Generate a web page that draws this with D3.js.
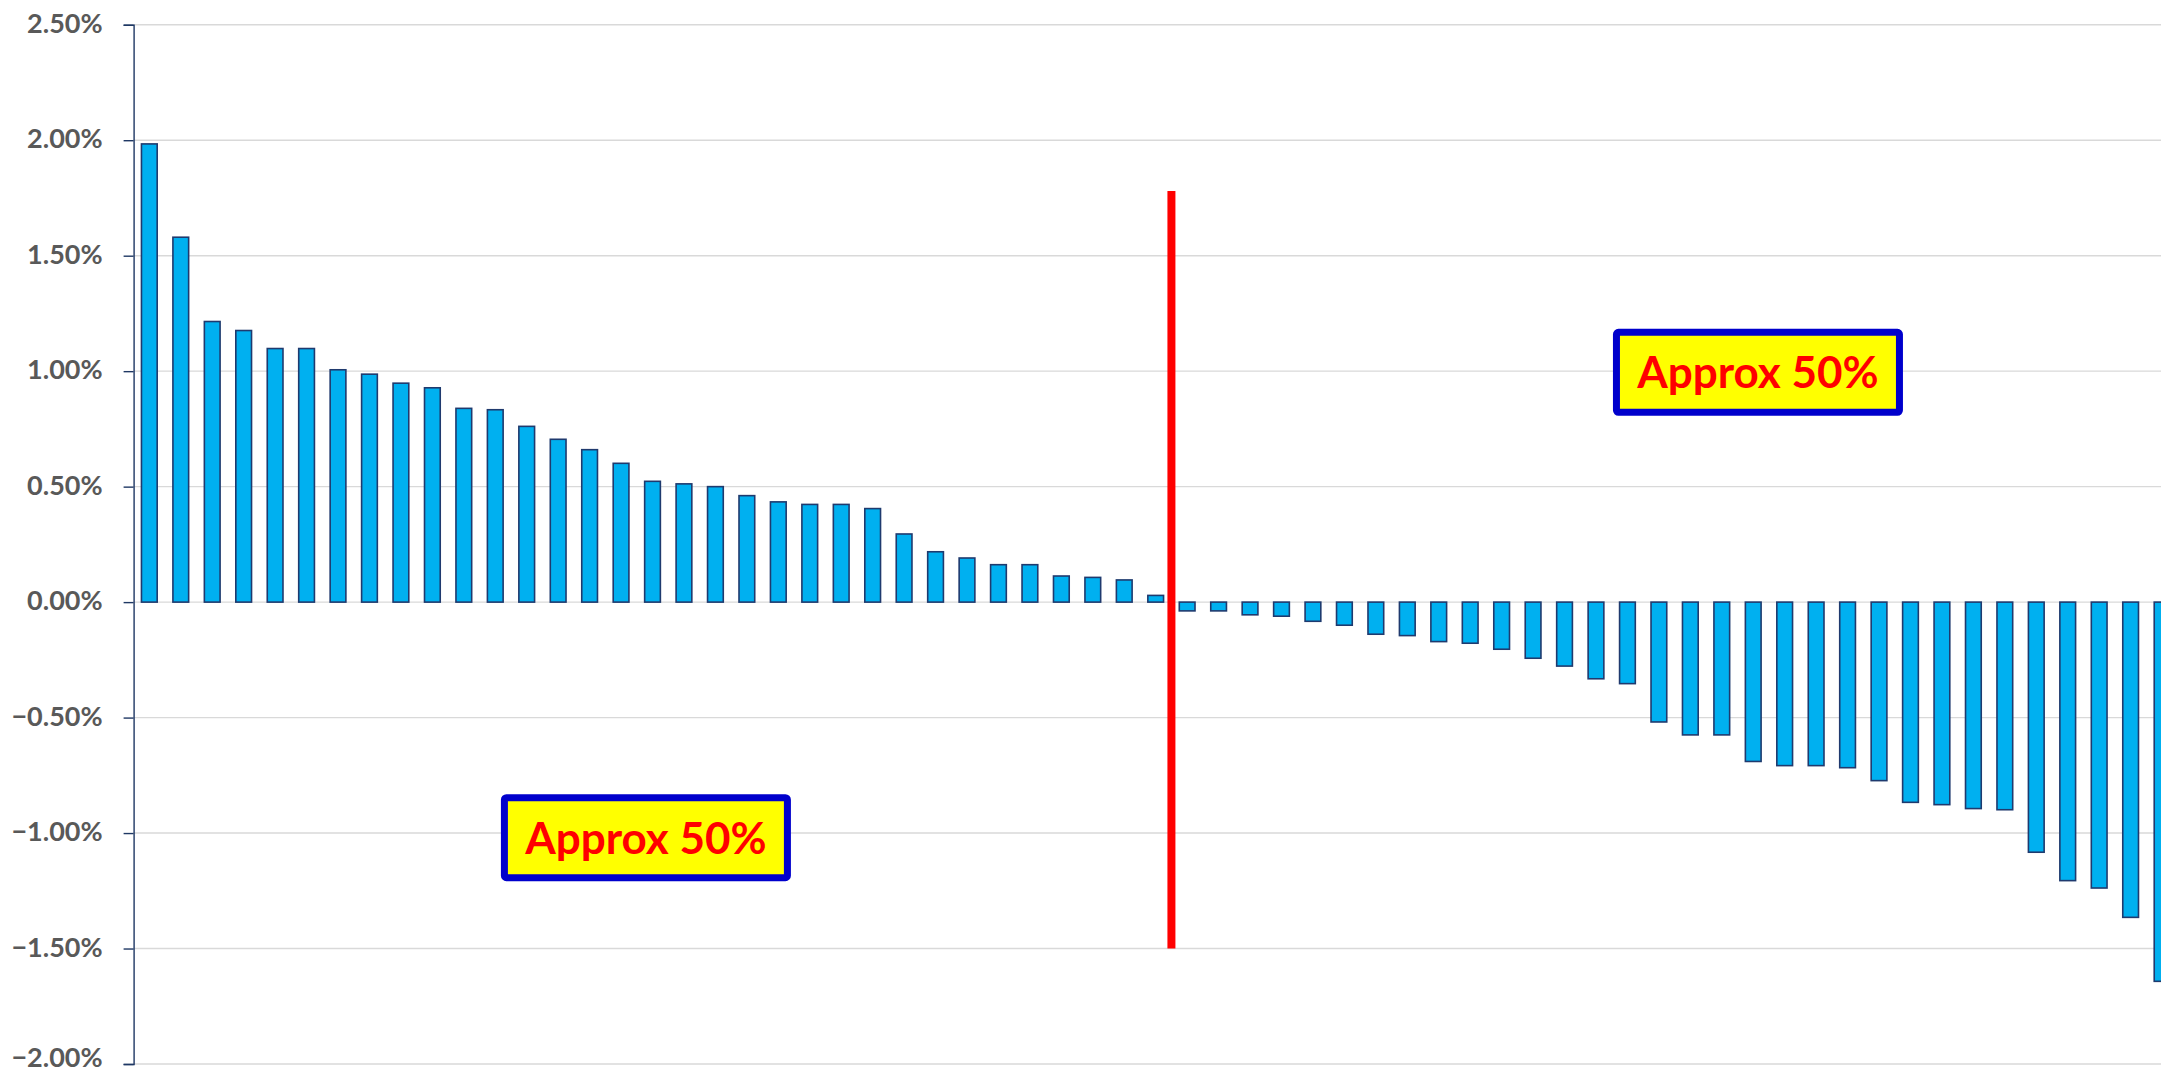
<!DOCTYPE html>
<html>
<head>
<meta charset="utf-8">
<script src="https://cdn.jsdelivr.net/npm/d3@7"></script>
<style>
    html, body { margin: 0; padding: 0; background: #fff; overflow: hidden; }
    svg { display: block; }
</style>
</head>
<body>
<div id="chart"></div>
<script>
// Values (percent, sorted high to low)
const values = [
    1.984, 1.580, 1.215, 1.176, 1.098, 1.098, 1.006, 0.987, 0.948, 0.928,
    0.839, 0.833, 0.761, 0.705, 0.660, 0.601, 0.523, 0.512, 0.500, 0.461,
    0.434, 0.423, 0.423, 0.405, 0.295, 0.218, 0.191, 0.162, 0.162, 0.113,
    0.107, 0.096, 0.029,
    -0.038, -0.038, -0.055, -0.061, -0.083, -0.100, -0.139, -0.145, -0.171,
    -0.178, -0.204, -0.243, -0.277, -0.332, -0.353, -0.519, -0.575, -0.575,
    -0.690, -0.708, -0.708, -0.717, -0.773, -0.867, -0.877, -0.894, -0.899,
    -1.083, -1.206, -1.238, -1.365, -1.642
];
const categories = values.map((d, i) => 'c' + (i + 1));
const yTicks = [2.5, 2.0, 1.5, 1.0, 0.5, 0.0, -0.5, -1.0, -1.5, -2.0];
const yDomain = [-2.0, 2.5];

// Red split line extent (percent)
const splitTop = 1.78;
const splitBottom = -1.50;

// Annotation labels: position in category steps / percent
const notes = [
    { text: 'Approx 50%', u: 16.29, v: -1.02 },
    { text: 'Approx 50%', u: 51.65, v: 0.995 }
];

const width = 2161;
const height = 1076;
// plot extends a little past the right edge, like the cropped original
const plotLeft = 133.6, plotRight = 2177.8;
const plotTop = 24.75, plotBottom = 1064;

const svg = d3.select('#chart')
    .append('svg')
    .attr('width', width)
    .attr('height', height);

const x = d3.scaleBand()
    .domain(categories)
    .range([plotLeft, plotRight])
    .paddingInner(0.5)
    .paddingOuter(0.25);

const y = d3.scaleLinear()
    .domain(yDomain)
    .range([plotBottom, plotTop]);

const xAt = u => plotLeft + u * x.step();

// Gridlines
svg.append('g')
    .selectAll('line')
    .data(yTicks)
    .join('line')
    .attr('x1', plotLeft)
    .attr('x2', width)
    .attr('y1', d => y(d))
    .attr('y2', d => y(d))
    .attr('stroke', '#d9d9d9')
    .attr('stroke-width', 1.4);

// Y axis
const yAxis = d3.axisLeft(y)
    .tickValues(yTicks)
    .tickSize(10)
    .tickPadding(21)
    .tickFormat(d => d3.format('.2f')(d) + '%');

const axisG = svg.append('g')
    .attr('transform', `translate(${plotLeft},0)`)
    .call(yAxis);

axisG.select('.domain')
    .attr('stroke', '#1f3864')
    .attr('stroke-width', 1.4);
axisG.selectAll('.tick line')
    .attr('stroke', '#1f3864')
    .attr('stroke-width', 1.4);
axisG.selectAll('.tick text')
    .attr('dy', '0.28em')
    .attr('fill', '#595959')
    .attr('font-family', 'Lato, "Open Sans", sans-serif')
    .attr('font-weight', 'bold')
    .attr('font-size', '27px');
// bottom label sits on the window edge; lift it a touch so it stays whole
axisG.selectAll('.tick text')
    .filter(d => d === yDomain[0])
    .attr('y', -5);

// Bars
svg.append('g')
    .selectAll('rect')
    .data(values)
    .join('rect')
    .attr('x', (d, i) => x(categories[i]))
    .attr('width', x.bandwidth())
    .attr('y', d => y(Math.max(0, d)))
    .attr('height', d => Math.abs(y(d) - y(0)))
    .attr('fill', '#00b0f0')
    .attr('stroke', '#1f3a6e')
    .attr('stroke-width', 1.6);

// Red split line between last positive and first negative bar
const splitIndex = values.findIndex(d => d < 0);
svg.append('line')
    .attr('x1', xAt(splitIndex))
    .attr('x2', xAt(splitIndex))
    .attr('y1', y(splitTop))
    .attr('y2', y(splitBottom))
    .attr('stroke', '#ff0000')
    .attr('stroke-width', 8);

// Annotation boxes
const boxW = 283, boxH = 80;
const noteG = svg.append('g')
    .selectAll('g')
    .data(notes)
    .join('g')
    .attr('transform', d => `translate(${xAt(d.u)},${y(d.v)})`);

noteG.append('rect')
    .attr('x', -boxW / 2)
    .attr('y', -boxH / 2)
    .attr('width', boxW)
    .attr('height', boxH)
    .attr('rx', 2)
    .attr('fill', '#ffff00')
    .attr('stroke', '#0000cc')
    .attr('stroke-width', 7);

noteG.append('text')
    .attr('text-anchor', 'middle')
    .attr('dy', '0.36em')
    .attr('fill', '#ff0000')
    .attr('font-family', 'Lato, "Open Sans", sans-serif')
    .attr('font-weight', 'bold')
    .attr('font-size', '44px')
    .text(d => d.text);
</script>
</body>
</html>
